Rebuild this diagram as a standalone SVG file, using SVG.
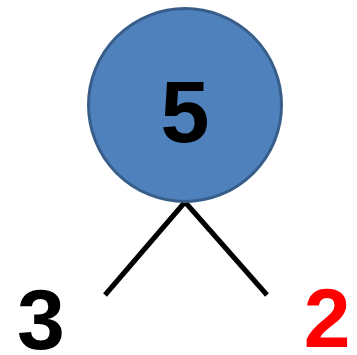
<svg xmlns="http://www.w3.org/2000/svg" width="357" height="355" viewBox="0 0 357 355">
<style>
.num{font-family:"Liberation Sans",Arial,sans-serif;font-weight:bold;text-anchor:middle;}
.edge{stroke:#000;stroke-width:5;fill:none;}
</style>
<rect width="357" height="355" fill="#fff"/>
<g id="connectors">
<line class="edge" x1="185" y1="202" x2="105" y2="295"/>
<line class="edge" x1="185" y1="202" x2="267" y2="295"/>
</g>
<g id="node-5">
<circle cx="185" cy="105" r="96.5" fill="#4F81BD" stroke="#385D8A" stroke-width="3"/>
<text class="num" x="185" y="142" font-size="88" fill="#000">5</text>
</g>
<g id="node-3">
<text class="num" x="41" y="349" font-size="86" fill="#000">3</text>
</g>
<g id="node-2">
<text class="num" x="327" y="347" font-size="84" fill="#FF0000">2</text>
</g>
</svg>
